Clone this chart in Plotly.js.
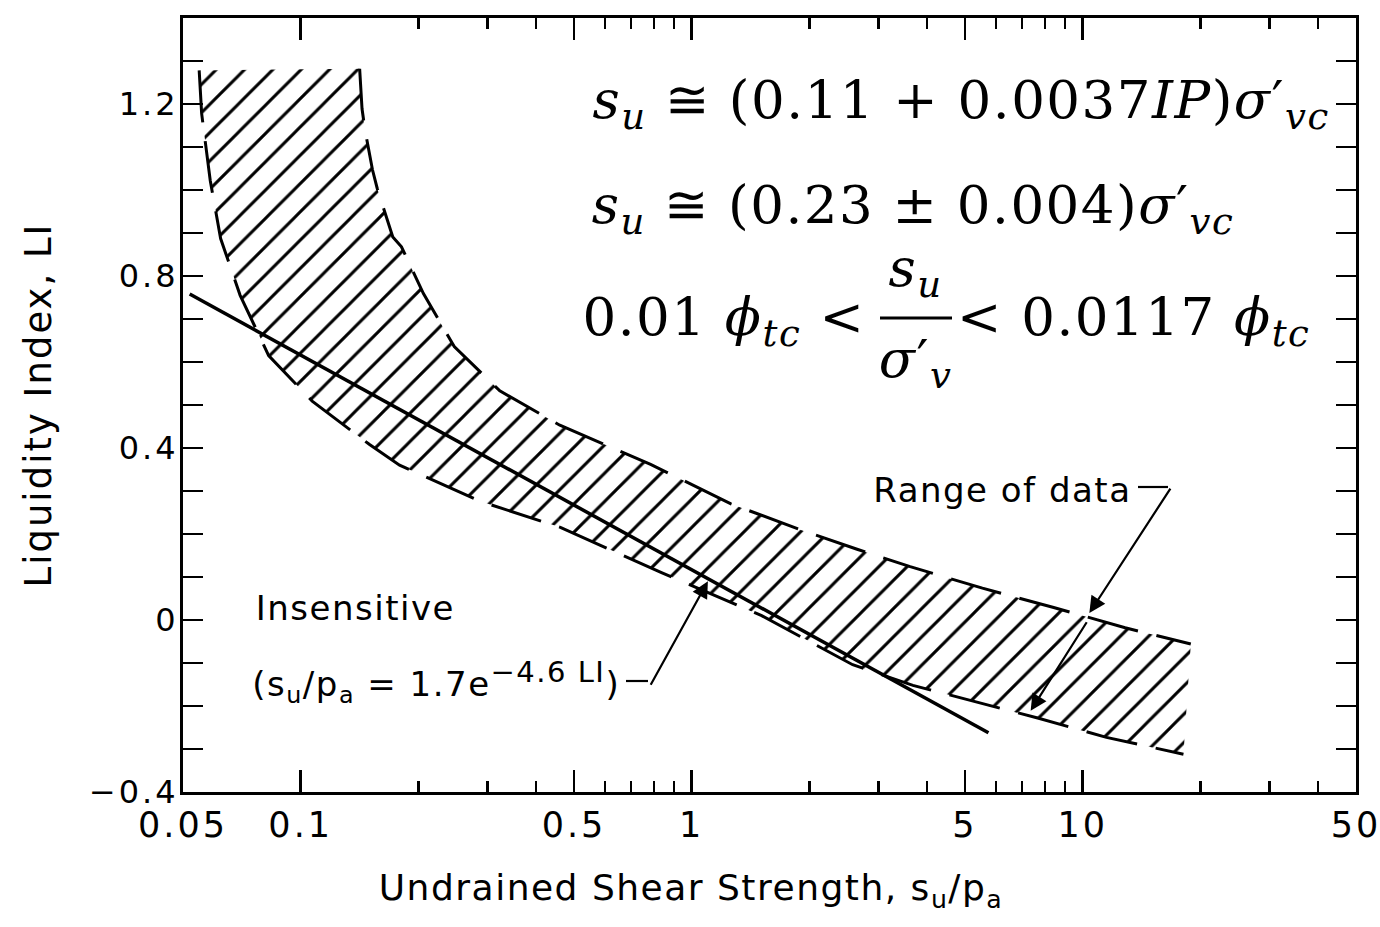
<!DOCTYPE html>
<html>
<head>
<meta charset="utf-8">
<script src="https://cdn.plot.ly/plotly-3.0.1.min.js"></script>
<style>
  html, body { margin: 0; padding: 0; background: #fff; }
  #chart { width: 1380px; height: 927px; }
  /* wide, lettering-guide look for the axis labels and notes */
  #chart .xtick text, #chart .ytick text { letter-spacing: 3px; }
  #chart .ytitle { letter-spacing: 2px; }
  #chart .annotation-text { letter-spacing: 1.5px; }
</style>
</head>
<body>
<div id="chart"></div>
<script>
// Range of data: outer (upper/right) and inner (lower/left) limits of the band
const upperStrength = [0.1415, 0.1435, 0.146, 0.1526, 0.157, 0.172, 0.181, 0.206, 0.247, 0.323, 0.46, 0.785, 1.26, 1.91, 2.66, 3.62, 5.54, 8.43, 12.84, 18.9];
const upperLI       = [1.282, 1.189, 1.140, 1.047, 1.003, 0.891, 0.868, 0.759, 0.636, 0.533, 0.453, 0.362, 0.270, 0.209, 0.164, 0.124, 0.074, 0.029, -0.018, -0.056];
const lowerStrength = [0.055, 0.0558, 0.0587, 0.0624, 0.070, 0.0828, 0.107, 0.150, 0.179, 0.288, 0.463, 0.837, 1.51, 2.58, 3.68, 4.84, 7.67, 11.5, 18.1];
const lowerLI       = [1.278, 1.178, 1.022, 0.887, 0.755, 0.615, 0.509, 0.408, 0.360, 0.276, 0.215, 0.110, 0.010, -0.104, -0.152, -0.181, -0.228, -0.273, -0.312];

// Insensitive clays, s_u/p_a = 1.7 e^(-4.6 LI): straight on the semi-log scale
const insensitiveStrength = [0.052, 5.74];
const insensitiveLI       = [0.758, -0.262];

// Axis ticks
const xTickVals  = [0.05, 0.1, 0.5, 1, 5, 10, 50];
const xTickText  = ['0.05', '0.1', '0.5', '1', '5', '10', '50'];
const xMinorVals = [0.2, 0.3, 0.4, 0.6, 0.7, 0.8, 0.9, 2, 3, 4, 6, 7, 8, 9, 20, 30, 40];
const yTickVals  = [-0.4, 0, 0.4, 0.8, 1.2];
const yTickText  = ['\u22120.4', '0', '0.4', '0.8', '1.2'];

// Plot frame in page pixels, used to place notes and equations
const L = 183, R = 1356, T = 18, B = 792;
const px = v => (v - L) / (R - L);
const py = v => (B - v) / (B - T);

const LEROY = 'DejaVu Sans, Arial, sans-serif';
const MATH = 'DejaVu Serif, Liberation Serif, serif';
const MATH_SIZE = 53;

const bandX = upperStrength.concat(lowerStrength.slice().reverse());
const bandY = upperLI.concat(lowerLI.slice().reverse());

const dashed = { color: '#000', width: 3, dash: '52px,19px' };

const traces = [
  {
    x: bandX, y: bandY, type: 'scatter', mode: 'lines',
    fill: 'toself', fillcolor: '#fff',
    fillpattern: { shape: '/', size: 20, solidity: 0.15, fgcolor: '#000', bgcolor: '#fff' },
    line: { width: 0 }, hoverinfo: 'skip', showlegend: false
  },
  { x: upperStrength, y: upperLI, type: 'scatter', mode: 'lines', line: dashed, hoverinfo: 'skip', showlegend: false },
  { x: lowerStrength, y: lowerLI, type: 'scatter', mode: 'lines', line: dashed, hoverinfo: 'skip', showlegend: false },
  { x: insensitiveStrength, y: insensitiveLI, type: 'scatter', mode: 'lines',
    line: { color: '#000', width: 3.5 }, hoverinfo: 'skip', showlegend: false }
];

const txt = (text, x, y, size, opts) => Object.assign({
  text: text, xref: 'paper', yref: 'paper', x: px(x), y: py(y),
  showarrow: false, xanchor: 'left', yanchor: 'middle',
  font: { family: LEROY, size: size, color: '#000' }
}, opts || {});

const mathTxt = (text, x, y, xanchor) => txt(text, x, y, MATH_SIZE, {
  xanchor: xanchor, font: { family: MATH, size: MATH_SIZE, color: '#000' }
});

const arrow = (tipX, tipY, ax, ay) => ({
  text: '', x: Math.log10(tipX), y: tipY, xref: 'x', yref: 'y',
  ax: ax, ay: ay, axref: 'pixel', ayref: 'pixel',
  showarrow: true, arrowhead: 2, arrowsize: 1.5, arrowwidth: 2.2, arrowcolor: '#000', standoff: 0
});

const annotations = [
  txt('Insensitive', 262, 608, 34),
  txt('(s<sub>u</sub>/p<sub>a</sub> = 1.7e<sup><span style="font-size:29px">\u22124.6 LI</span></sup>)', 266, 682, 34),
  arrow(1.10, 0.09, -58, 105),
  txt('Range of data', 881, 490, 34),
  arrow(10.4, 0.016, 82, -126),
  arrow(7.36, -0.211, 57, -90),
  txt('Undrained Shear Strength, s<sub>u</sub>/p<sub>a</sub>', 691, 890, 36, { xanchor: 'center' }),

  mathTxt('<i>s</i><sub><i>u</i></sub> \u2245 (0.11 + 0.0037<i>IP</i>)<i>\u03c3</i>\u2032<sub><i>vc</i></sub>', 961, 103, 'center'),
  mathTxt('<i>s</i><sub><i>u</i></sub> \u2245 (0.23 \u00b1 0.004)<i>\u03c3</i>\u2032<sub><i>vc</i></sub>', 913, 209, 'center'),
  mathTxt('0.01 <i>\u03d5</i><sub><i>tc</i></sub> &lt;', 860, 320, 'right'),
  mathTxt('<i>s</i><sub><i>u</i></sub>', 915, 271, 'center'),
  mathTxt('<i>\u03c3</i>\u2032<sub><i>v</i></sub>', 915, 362, 'center'),
  mathTxt('&lt; 0.0117 <i>\u03d5</i><sub><i>tc</i></sub>', 964, 320, 'left')
];

const seg = (x0, y0, x1, y1, w) => ({
  type: 'line', xref: 'paper', yref: 'paper',
  x0: px(x0), y0: py(y0), x1: px(x1), y1: py(y1),
  line: { color: '#000', width: w }
});

const shapes = [
  seg(626, 681, 648, 681, 2.2),
  seg(1138, 487, 1168, 487, 2.2),
  seg(880, 318, 952, 318, 3)
];

const layout = {
  width: 1380, height: 927,
  margin: { l: L, r: 1380 - R, t: T, b: 927 - B },
  paper_bgcolor: '#fff', plot_bgcolor: '#fff',
  showlegend: false,
  font: { family: LEROY, color: '#000' },
  xaxis: {
    type: 'log', range: [Math.log10(0.05), Math.log10(50)],
    tickmode: 'array', tickvals: xTickVals, ticktext: xTickText,
    ticks: 'inside', ticklen: 22, tickwidth: 2.5, tickcolor: '#000',
    minor: { tickmode: 'array', tickvals: xMinorVals, ticks: 'inside', ticklen: 11, tickwidth: 2.5, tickcolor: '#000', showgrid: false },
    showline: true, linewidth: 3, linecolor: '#000', mirror: 'ticks',
    showgrid: false, zeroline: false,
    tickfont: { family: LEROY, size: 35, color: '#000' },
    ticklabelstandoff: 0
  },
  yaxis: {
    range: [-0.4, 1.4],
    tickmode: 'array', tickvals: yTickVals, ticktext: yTickText,
    ticks: 'inside', ticklen: 20, tickwidth: 2.5, tickcolor: '#000',
    minor: { dtick: 0.1, tick0: 0, ticks: 'inside', ticklen: 20, tickwidth: 2.5, tickcolor: '#000', showgrid: false },
    showline: true, linewidth: 3, linecolor: '#000', mirror: 'ticks',
    showgrid: false, zeroline: false,
    tickfont: { family: LEROY, size: 32, color: '#000' },
    ticklabelstandoff: -5,
    title: { text: 'Liquidity Index, LI', font: { family: LEROY, size: 37, color: '#000' }, standoff: 38 }
  },
  annotations: annotations,
  shapes: shapes
};

Plotly.newPlot('chart', traces, layout, { staticPlot: true, displayModeBar: false });
</script>
</body>
</html>
